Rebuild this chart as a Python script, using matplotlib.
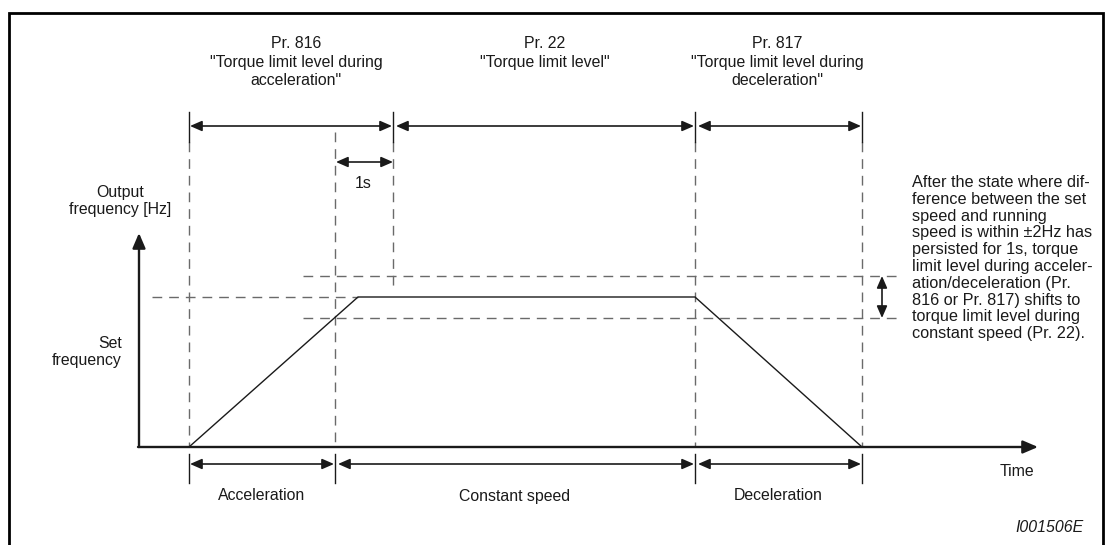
import matplotlib
matplotlib.use("Agg")
import matplotlib.pyplot as plt

# ---------------- data (time in diagram units, frequency in diagram units) -------------
profile_t = [189, 358, 695, 862]          # start accel, reach set freq, start decel, stop
profile_f = [0, 150, 150, 0]
set_freq = 150
band = 21                                   # +-2 Hz band around set frequency
phase_names = ["Acceleration", "Constant speed", "Deceleration"]
phase_bounds = [189, 335, 695, 862]
param_labels = ['Pr. 816\n"Torque limit level during\nacceleration"',
                'Pr. 22\n"Torque limit level"',
                'Pr. 817\n"Torque limit level during\ndeceleration"']
param_bounds = [189, 393, 695, 862]
note_text = ("After the state where dif-\n"
             "ference between the set\n"
             "speed and running\n"
             "speed is within \u00b12Hz has\n"
             "persisted for 1s, torque\n"
             "limit level during acceler-\n"
             "ation/deceleration (Pr.\n"
             "816 or Pr. 817) shifts to\n"
             "torque limit level during\n"
             "constant speed (Pr. 22).")

# ---------------- layout helpers -------------
W, H = 1105, 545
AXIS_PX = 447
def Y(p):  # pixel row -> frequency coordinate
    return AXIS_PX - p

plt.rcParams['font.family'] = ['Liberation Sans', 'DejaVu Sans']
fig = plt.figure(figsize=(W / 100, H / 100), dpi=100)
ax = fig.add_axes([0, 0, 1, 1])
ax.set_xlim(0, W)
ax.set_ylim(Y(H), Y(0))
ax.axis('off')

DARK = '#1a1a1a'
GREY = '#6a6a6a'
FS = 11.4

def darrow(x0, x1, y, lw=1.2):
    ax.annotate('', xy=(x1, y), xytext=(x0, y),
                arrowprops=dict(arrowstyle='<|-|>,head_length=0.55,head_width=0.24',
                                mutation_scale=13, lw=lw, color=DARK,
                                shrinkA=0, shrinkB=0))

def vdarrow(x, y0, y1, lw=1.2):
    ax.annotate('', xy=(x, y1), xytext=(x, y0),
                arrowprops=dict(arrowstyle='<|-|>,head_length=0.55,head_width=0.24',
                                mutation_scale=13, lw=lw, color=DARK,
                                shrinkA=0, shrinkB=0))

dash = dict(color=GREY, lw=1.0, dashes=(7, 5))

# frame
ax.plot([8.5, 8.5, 1103, 1103], [Y(H), Y(13), Y(13), Y(H)], color='black', lw=2.0,
        solid_joinstyle='miter', clip_on=False)

# vertical dashed guide lines
for x in [189, 695, 862]:
    ax.plot([x, x], [Y(142), 0], **dash)
ax.plot([335, 335], [Y(132), 0], **dash)
ax.plot([393, 393], [Y(142), Y(292)], **dash)

# horizontal dashed lines: set freq and +-band
ax.plot([152, profile_t[1]], [set_freq, set_freq], **dash)
ax.plot([303, 898], [set_freq + band, set_freq + band], **dash)
ax.plot([303, 898], [set_freq - band, set_freq - band], **dash)

# axes
ax.annotate('', xy=(1038, 0), xytext=(138, 0),
            arrowprops=dict(arrowstyle='-|>,head_length=0.7,head_width=0.3',
                            mutation_scale=13, lw=1.7, color=DARK, shrinkA=0, shrinkB=0))
ax.annotate('', xy=(139, Y(233)), xytext=(139, 0),
            arrowprops=dict(arrowstyle='-|>,head_length=0.7,head_width=0.3',
                            mutation_scale=13, lw=1.7, color=DARK, shrinkA=0, shrinkB=0))

# frequency profile
ax.plot(profile_t, profile_f, color=DARK, lw=1.0)

# top parameter spans
for i, lab in enumerate(param_labels):
    x0, x1 = param_bounds[i], param_bounds[i + 1]
    darrow(x0 + 3 if i > 0 else x0 + 1, x1 - 1, Y(126))
centers = [296, 545, 777]
for c, lab in zip(centers, param_labels):
    ax.text(c, Y(36), lab, ha='center', va='top', fontsize=FS, linespacing=1.31,
            color=DARK)
for x in param_bounds:
    ax.plot([x, x], [Y(112), Y(142)], color=DARK, lw=1.0)

# 1 s arrow
darrow(336, 393, Y(162))
ax.text(363, Y(183), '1s', ha='center', va='center', fontsize=FS, color=DARK)

# bottom phase spans
for i, name in enumerate(phase_names):
    x0, x1 = phase_bounds[i], phase_bounds[i + 1]
    darrow(x0 + (3 if i > 0 else 1), x1 - 1, Y(464))
    ax.text((x0 + x1) / 2, Y(496), name, ha='center', va='center', fontsize=FS,
            color=DARK)
for x in phase_bounds:
    ax.plot([x, x], [Y(454), Y(483)], color=DARK, lw=1.0)

# band double arrow
vdarrow(882, set_freq + band, set_freq - band)

# labels
ax.text(120, Y(201), 'Output\nfrequency [Hz]', ha='center', va='center', fontsize=FS,
        linespacing=1.18, color=DARK)
ax.text(122, Y(352), 'Set\nfrequency', ha='right', va='center', fontsize=FS,
        linespacing=1.18, color=DARK)
ax.text(1017, Y(472), 'Time', ha='center', va='center', fontsize=FS, color=DARK)
ax.text(1084, Y(528), 'I001506E', ha='right', va='center', fontsize=FS,
        style='italic', color=DARK)
ax.text(912, Y(258), note_text, ha='left', va='center', fontsize=11.7, linespacing=1.15,
        color=DARK)

fig.savefig('out.png', dpi=100)
